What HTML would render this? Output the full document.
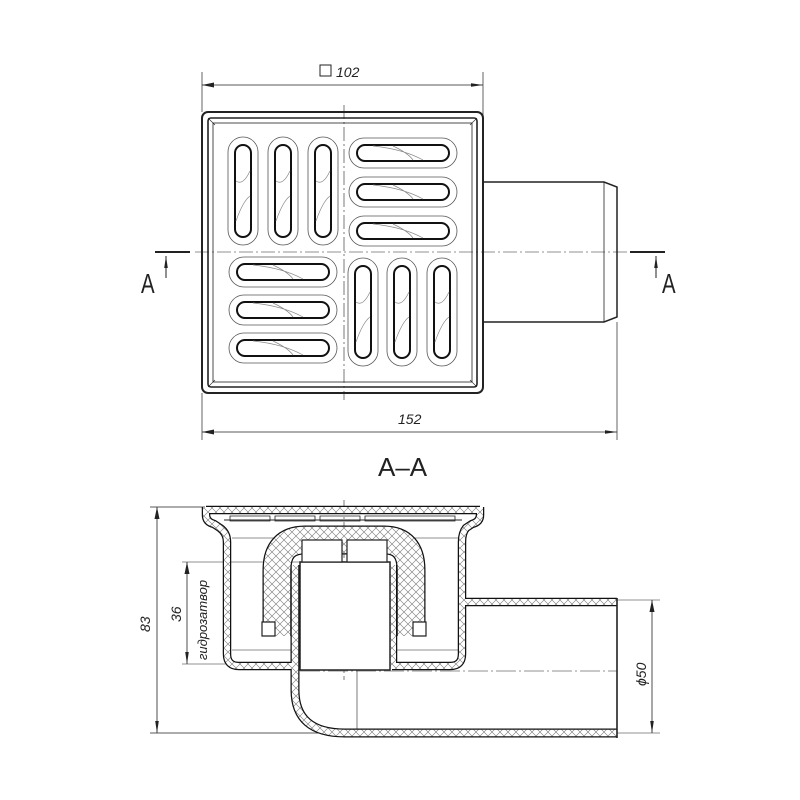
<!DOCTYPE html>
<html><head><meta charset="utf-8"><style>
html,body{margin:0;padding:0;background:#fff}
svg{display:block}
text{font-family:"Liberation Sans",sans-serif;fill:#222}
</style></head><body>
<svg width="800" height="800" viewBox="0 0 800 800" xmlns="http://www.w3.org/2000/svg">
<defs>
<pattern id="h" width="8" height="8" patternUnits="userSpaceOnUse">
<rect width="8" height="8" fill="#fff"/>
<path d="M0 0L8 8M8 0L0 8" stroke="#777" stroke-width="0.6"/>
</pattern>
<marker id="ar" markerWidth="12" markerHeight="6" refX="12" refY="3" orient="auto" markerUnits="userSpaceOnUse">
<path d="M0 1.2L12 3L0 4.8Z" fill="#222"/></marker>
<g id="vs"><rect x="-15" y="-54" width="30" height="108" rx="15" fill="none" stroke="#555" stroke-width="0.8"/>
<rect x="-8" y="-46" width="16" height="92" rx="8" fill="none" stroke="#111" stroke-width="2"/>
<path d="M-7 -10 Q0 -5 7 -20 M-7 30 Q0 10 7 5" stroke="#888" stroke-width="0.7" fill="none"/></g>
<g id="hs"><rect x="-54" y="-15" width="108" height="30" rx="15" fill="none" stroke="#555" stroke-width="0.8"/>
<rect x="-46" y="-8" width="92" height="16" rx="8" fill="none" stroke="#111" stroke-width="2"/>
<path d="M-30 -7 Q0 -4 20 7 M-10 -7 Q5 0 10 7" stroke="#888" stroke-width="0.7" fill="none"/></g>
</defs>
<g stroke="#222" fill="none">
<line x1="202" y1="72" x2="202" y2="112" stroke-width="0.7"/>
<line x1="483" y1="72" x2="483" y2="182" stroke-width="0.7"/>
<line x1="202" y1="85" x2="483" y2="85" stroke-width="0.8" marker-end="url(#ar)"/>
<line x1="202" y1="393" x2="202" y2="440" stroke-width="0.7"/>
<line x1="617" y1="322" x2="617" y2="440" stroke-width="0.7"/>
<line x1="202" y1="432" x2="617" y2="432" stroke-width="0.8" marker-end="url(#ar)"/>
<path d="M214 429.5L202 432L214 434.5Z M214 82.5L202 85L214 87.5Z" fill="#222" stroke="none"/>
<rect x="320" y="65" width="11" height="11" stroke-width="1"/>
<rect x="202" y="112" width="281" height="281" rx="6" stroke-width="2"/>
<rect x="208" y="118" width="269" height="269" rx="3" stroke-width="1.6"/>
<rect x="213" y="123" width="259" height="259" stroke-width="0.8"/>
<path d="M208 118L215 125M477 118L470 125M208 387L215 380M477 387L470 380" stroke-width="0.6"/>
<path d="M483 182H604L617 187V317L604 322H483" stroke-width="1.5"/>
<line x1="604" y1="182" x2="604" y2="322" stroke-width="0.8"/>
<line x1="344" y1="105" x2="344" y2="400" stroke-width="0.6" stroke-dasharray="14 3 2 3"/>
<line x1="195" y1="252" x2="628" y2="252" stroke-width="0.6" stroke-dasharray="14 3 2 3"/>
<line x1="155" y1="252" x2="190" y2="252" stroke-width="2"/>
<line x1="630" y1="252" x2="665" y2="252" stroke-width="2"/>
<line x1="166" y1="278" x2="166" y2="256" stroke-width="1" marker-end="url(#ar)"/>
<line x1="656" y1="278" x2="656" y2="256" stroke-width="1" marker-end="url(#ar)"/>
</g>
<use href="#vs" x="243" y="191"/><use href="#vs" x="283" y="191"/><use href="#vs" x="323" y="191"/>
<use href="#hs" x="403" y="153"/><use href="#hs" x="403" y="192"/><use href="#hs" x="403" y="231"/>
<use href="#hs" x="283" y="272"/><use href="#hs" x="283" y="310"/><use href="#hs" x="283" y="348"/>
<use href="#vs" x="363" y="312"/><use href="#vs" x="402" y="312"/><use href="#vs" x="442" y="312"/>
<text x="336" y="77" font-size="14" font-style="italic">102</text>
<text x="398" y="424" font-size="14" font-style="italic">152</text>
<text x="141" y="293" font-size="24" transform="translate(141 293) scale(0.85 1.15) translate(-141 -293)">A</text>
<text x="662" y="293" font-size="24" transform="translate(662 293) scale(0.85 1.15) translate(-662 -293)">A</text>
<text x="378" y="476" font-size="26">A–A</text>

<g stroke="#222" fill="none">
<line x1="150" y1="507" x2="205" y2="507" stroke-width="0.7"/>
<line x1="150" y1="733" x2="330" y2="733" stroke-width="0.7"/>
<line x1="157" y1="507" x2="157" y2="733" stroke-width="0.8" marker-end="url(#ar)"/>
<path d="M154.5 519L157 507L159.5 519Z" fill="#222" stroke="none"/>
<line x1="182" y1="562" x2="300" y2="562" stroke-width="0.6"/>
<line x1="182" y1="664" x2="300" y2="664" stroke-width="0.6"/>
<line x1="187" y1="562" x2="187" y2="664" stroke-width="0.8" marker-end="url(#ar)"/>
<path d="M184.5 574L187 562L189.5 574Z" fill="#222" stroke="none"/>
<line x1="617" y1="600" x2="660" y2="600" stroke-width="0.6"/>
<line x1="617" y1="733" x2="660" y2="733" stroke-width="0.6"/>
<line x1="652" y1="600" x2="652" y2="733" stroke-width="0.8" marker-end="url(#ar)"/>
<path d="M649.5 612L652 600L654.5 612Z" fill="#222" stroke="none"/>
<line x1="344" y1="500" x2="344" y2="680" stroke-width="0.6" stroke-dasharray="14 3 2 3"/>
<line x1="300" y1="671" x2="617" y2="671" stroke-width="0.6" stroke-dasharray="20 3 2 3"/>
<line x1="357" y1="671" x2="357" y2="733" stroke-width="0.6"/>
<line x1="232" y1="538" x2="459" y2="538" stroke-width="0.5"/>
<line x1="232" y1="650" x2="459" y2="650" stroke-width="0.5"/>
</g>
<g fill="none" stroke-linejoin="round">
<g stroke="#111" stroke-width="8.5">
<path d="M206 507V515Q206 522 214 524L220 528Q227 533 227 542V654Q227 666 239 666H296"/>
<path d="M480 507V515Q480 522 472 524L466 528Q462 533 462 542V654Q462 666 450 666H392"/>
<path d="M206 510H480"/>
<path d="M462 602H617"/>
<path d="M295 565V690Q295 733 345 733H617" stroke-width="9"/>
<path d="M393 565V666"/>
<path d="M277 636V570Q277 540 305 540H384Q411 540 411 570V636" stroke-width="29"/>
</g>
<g stroke="url(#h)" stroke-width="6">
<path d="M206 507V515Q206 522 214 524L220 528Q227 533 227 542V654Q227 666 239 666H296"/>
<path d="M480 507V515Q480 522 472 524L466 528Q462 533 462 542V654Q462 666 450 666H392"/>
<path d="M206 510H480"/>
<path d="M462 602H617"/>
<path d="M295 565V690Q295 733 345 733H617" stroke-width="6.5"/>
<path d="M393 565V666"/>
<path d="M277 636V570Q277 540 305 540H384Q411 540 411 570V636" stroke-width="26.5"/>
</g>
</g>
<g stroke="#222" fill="#fff">
<rect x="300" y="562" width="90" height="108" stroke-width="1.5"/>
<rect x="302" y="540" width="40" height="22" stroke-width="1.2"/>
<rect x="347" y="540" width="40" height="22" stroke-width="1.2"/>
<path d="M262 636V622H275V636Z M426 636V622H413V636Z" stroke-width="1.2"/>
<line x1="617" y1="598" x2="617" y2="738" stroke-width="1.6"/>
<path d="M224 520H462" fill="none" stroke-width="1"/>
<path d="M230 516h40v5h-40zM275 516h40v5h-40zM320 516h40v5h-40zM365 516h90v5h-90z" fill="none" stroke-width="0.8"/>
</g>
<text font-size="14" font-style="italic" transform="translate(150 632) rotate(-90)">83</text>
<text font-size="14" font-style="italic" transform="translate(181 622) rotate(-90)">36</text>
<text font-size="13" font-style="italic" transform="translate(207 660) rotate(-90)">гидрозатвор</text>
<text font-size="14" font-style="italic" transform="translate(646 686) rotate(-90)">ϕ50</text>
</svg>
</body></html>
